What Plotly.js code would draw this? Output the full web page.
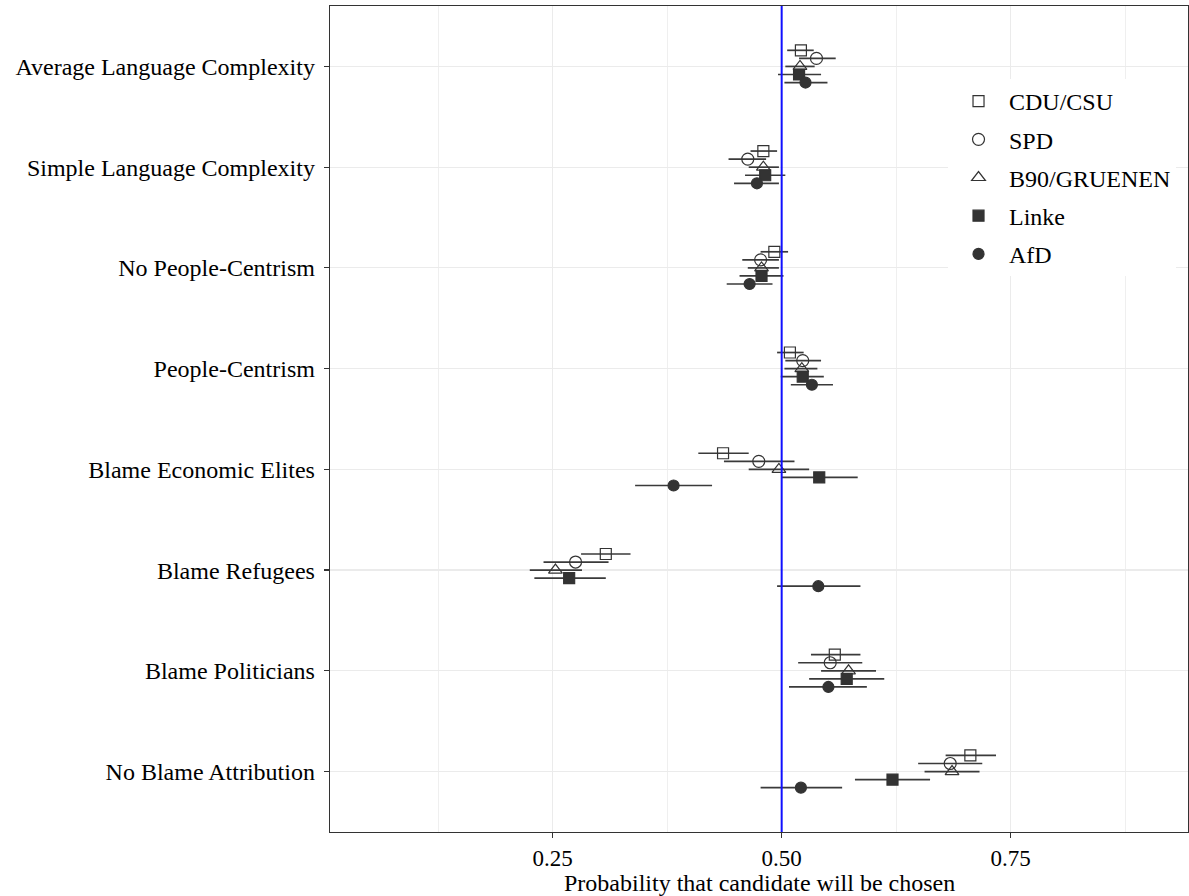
<!DOCTYPE html>
<html>
<head>
<meta charset="utf-8">
<script src="https://cdn.plot.ly/plotly-3.0.1.min.js"></script>
<style>html,body{margin:0;padding:0;background:#fff;}#chart{width:1189px;height:896px;}</style>
</head>
<body>
<div id="chart"></div>
<script>
// Categories, top to bottom
const categories = ["Average Language Complexity","Simple Language Complexity","No People-Centrism","People-Centrism","Blame Economic Elites","Blame Refugees","Blame Politicians","No Blame Attribution"];
const parties = ["CDU/CSU","SPD","B90/GRUENEN","Linke","AfD"];

const cduEst = [0.521, 0.480, 0.492, 0.509, 0.436, 0.308, 0.558, 0.706];
const cduLo  = [0.506, 0.466, 0.477, 0.495, 0.409, 0.281, 0.532, 0.679];
const cduHi  = [0.535, 0.495, 0.507, 0.524, 0.464, 0.335, 0.586, 0.734];

const spdEst = [0.538, 0.463, 0.477, 0.523, 0.475, 0.275, 0.553, 0.684];
const spdLo  = [0.519, 0.442, 0.457, 0.504, 0.437, 0.240, 0.518, 0.649];
const spdHi  = [0.559, 0.483, 0.497, 0.543, 0.514, 0.311, 0.588, 0.719];

const greenEst = [0.520, 0.480, 0.478, 0.522, 0.497, 0.253, 0.573, 0.686];
const greenLo  = [0.504, 0.464, 0.463, 0.503, 0.464, 0.225, 0.543, 0.656];
const greenHi  = [0.536, 0.497, 0.497, 0.539, 0.530, 0.282, 0.603, 0.716];

const linkeEst = [0.519, 0.482, 0.478, 0.523, 0.541, 0.268, 0.571, 0.621];
const linkeLo  = [0.496, 0.460, 0.454, 0.499, 0.500, 0.230, 0.530, 0.580];
const linkeHi  = [0.543, 0.504, 0.502, 0.546, 0.583, 0.308, 0.612, 0.662];

const afdEst = [0.526, 0.473, 0.465, 0.533, 0.382, 0.540, 0.551, 0.521];
const afdLo  = [0.503, 0.448, 0.440, 0.510, 0.340, 0.495, 0.508, 0.477];
const afdHi  = [0.550, 0.497, 0.490, 0.556, 0.424, 0.586, 0.593, 0.566];

const tickVals = [0.25, 0.50, 0.75];
const xTitle = "Probability that candidate will be chosen";

const series = [
  {name: parties[0], est: cduEst, lo: cduLo, hi: cduHi, symbol: "square-open", size: 11},
  {name: parties[1], est: spdEst, lo: spdLo, hi: spdHi, symbol: "circle-open", size: 12},
  {name: parties[2], est: greenEst, lo: greenLo, hi: greenHi, symbol: "triangle-up-open", size: 12},
  {name: parties[3], est: linkeEst, lo: linkeLo, hi: linkeHi, symbol: "square", size: 11},
  {name: parties[4], est: afdEst, lo: afdLo, hi: afdHi, symbol: "circle", size: 11}
];

const n = categories.length;
const basePos = categories.map((c, i) => n - i);
const dodge = [0.16, 0.08, 0, -0.08, -0.16];
const dark = "#333333";
const FONT = "Liberation Serif, Times New Roman, serif";

const traces = series.map((s, k) => ({
  type: "scatter",
  mode: "markers",
  name: s.name,
  legendgroup: "g" + k,
  x: s.est,
  y: basePos.map(p => p + dodge[k]),
  error_x: {
    type: "data", symmetric: false,
    array: s.est.map((v, i) => s.hi[i] - v),
    arrayminus: s.est.map((v, i) => v - s.lo[i]),
    color: "#3a3a3a", thickness: 1.7, width: 0
  },
  marker: {symbol: s.symbol, size: s.size, color: dark, line: {color: dark, width: 1.2}},
  hoverinfo: "x+y+name"
}));

const layout = {
  width: 1189, height: 896,
  margin: {l: 330, r: 1, t: 6, b: 64},
  paper_bgcolor: "#ffffff", plot_bgcolor: "#ffffff",
  font: {family: FONT, size: 24, color: "#000000"},
  showlegend: true,
  legend: {
    x: 0.7203, xanchor: "left", y: 0.9116, yanchor: "top",
    bgcolor: "#ffffff", borderwidth: 0,
    font: {family: FONT, size: 24, color: "#000000"},
    tracegroupgap: 4, traceorder: "grouped", itemwidth: 51
  },
  xaxis: {
    range: [0.0069, 0.9436],
    tickvals: tickVals, tickformat: ".2f",
    showgrid: true, gridcolor: "#EBEBEB", gridwidth: 1.2,
    minor: {tickvals: [0.125, 0.375, 0.625, 0.875], showgrid: true, gridcolor: "#EBEBEB", gridwidth: 0.8, ticks: ""},
    zeroline: false,
    showline: true, mirror: true, linecolor: dark, linewidth: 1.3,
    ticks: "outside", ticklen: 5, tickcolor: dark, tickwidth: 1.2,
    ticklabelstandoff: 0,
    tickfont: {family: FONT, size: 23, color: "#000000"}
  },
  yaxis: {
    range: [0.4, n + 0.6],
    tickvals: basePos, ticktext: categories,
    showgrid: true, gridcolor: "#EBEBEB", gridwidth: 1.2,
    zeroline: false,
    showline: true, mirror: true, linecolor: dark, linewidth: 1.3,
    ticks: "outside", ticklen: 5, tickcolor: dark, tickwidth: 1.2,
    ticklabelstandoff: 4,
    tickfont: {family: FONT, size: 24, color: "#000000"}
  },
  annotations: [{
    text: xTitle, xref: "paper", yref: "paper", x: 0.5, y: -0.0615,
    xanchor: "center", yanchor: "middle", showarrow: false,
    font: {family: FONT, size: 24, color: "#000000"}
  }],
  shapes: [{
    type: "line", xref: "x", yref: "paper", x0: 0.5, x1: 0.5, y0: 0, y1: 1,
    line: {color: "#1010FF", width: 2}, layer: "above"
  }]
};

Plotly.newPlot("chart", traces, layout, {displayModeBar: false, staticPlot: true});
</script>
</body>
</html>
